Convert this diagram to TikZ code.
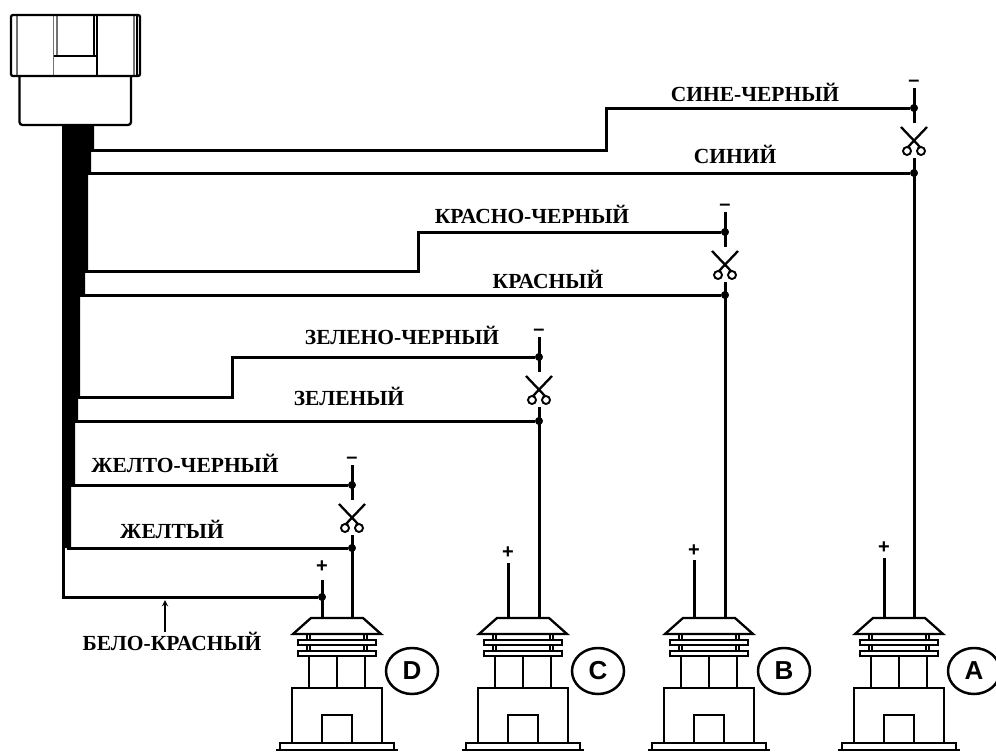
\documentclass[tikz,border=0pt]{standalone}
\usepackage{fontspec}
\setmainfont{Liberation Serif}
\setsansfont{Liberation Sans}
\usetikzlibrary{shapes.geometric}

\begin{document}
\begin{tikzpicture}[x=1pt, y=-1pt]
\tikzset{tipoint/.style={draw, circle, fill, inner sep=0pt, minimum size=7.5pt}}
\tikzset{fil/.style={line width=3pt, line join=miter}}
\tikzset{trait/.style={line width=2.3pt, line join=miter}}
\tikzset{fin/.style={line width=1.6pt, black!55}}
\tikzset{etiq/.style={font=\bfseries\fontsize{21.5}{22}\selectfont, inner sep=0pt}}
\tikzset{signe/.style={font=\sffamily\bfseries\fontsize{20}{20}\selectfont, inner sep=0pt}}
\tikzset{lettre/.style={draw, ellipse, line width=2.5pt, inner sep=0pt, minimum width=52pt, minimum height=46pt, font=\sffamily\bfseries\fontsize{26}{26}\selectfont}}
\useasboundingbox (0,0) rectangle (996,752);
% connecteur
\draw[fin] (17,15) -- (17,76);
\draw[fin] (53.5,15) -- (53.5,76);
\draw[fin] (57,15) -- (57,56);
\draw[fin] (134,15) -- (134,76);
\draw[trait] (94,15) -- (94,56);
\draw[trait] (97,15) -- (97,76);
\draw[trait] (137,15) -- (137,76);
\draw[trait] (54,56) -- (96,56);
\draw[trait, rounded corners=2pt] (11,15) rectangle (140,76);
\draw[trait, rounded corners=3pt] (19.5,76) -- (19.5,125) -- (131,125) -- (131,76);
% faisceau
\fill (62,125) -- (94,125) -- (94,149) -- (91,149) -- (91,172) -- (88,172)
  -- (88,271) -- (85,271) -- (85,295) -- (80,295) -- (80,397) -- (78,397)
  -- (78,421) -- (75,421) -- (75,485) -- (71,485) -- (71,548) -- (62,548) -- cycle;
% points
\node[tipoint] (A1) at (914,108) {};
\node[tipoint] (A2) at (914,173) {};
\node[tipoint] (B1) at (725,232) {};
\node[tipoint] (B2) at (725,295) {};
\node[tipoint] (C1) at (539,357) {};
\node[tipoint] (C2) at (539,421) {};
\node[tipoint] (D1) at (352,485) {};
\node[tipoint] (D2) at (352,548) {};
\node[tipoint] (D3) at (322,597) {};
% departs
\coordinate (SA1) at (90,150);
\coordinate (SA2) at (87,173);
\coordinate (SB1) at (84,271);
\coordinate (SB2) at (79,295);
\coordinate (SC1) at (77,397);
\coordinate (SC2) at (74,421);
\coordinate (SD1) at (70,485);
\coordinate (SD2) at (67,548);
\coordinate (SD3) at (63,546);
\coordinate (KA) at (606,150);
\coordinate (KB) at (418,271);
\coordinate (KC) at (232,397);
\coordinate (KD) at (63,597);
\draw[fil] (SA1) -- (KA) |- (A1);
\draw[fil] (SA2) -- (A2);
\draw[fil] (SB1) -- (KB) |- (B1);
\draw[fil] (SB2) -- (B2);
\draw[fil] (SC1) -- (KC) |- (C1);
\draw[fil] (SC2) -- (C2);
\draw[fil] (SD1) -- (D1);
\draw[fil] (SD2) -- (D2);
\draw[fil] (SD3) -- (KD) -- (D3);
% coupures
\foreach \nom/\xf/\yf in {A/914/108, B/725/232, C/539/357, D/352/485} {
  \coordinate (\nom H) at (\xf,\yf-20);
  \coordinate (\nom M) at (\xf,\yf+15);
  \coordinate (\nom N) at (\xf,\yf+50);
  \coordinate (\nom G) at (\xf-13,\yf+19);
  \coordinate (\nom R) at (\xf+6,\yf+39);
  \coordinate (\nom S) at (\xf+13,\yf+19);
  \coordinate (\nom T) at (\xf-6,\yf+39);
  \node[signe] (\nom moins) at (\xf,\yf-25) {–};
  \draw[fil] (\nom H) -- (\nom M);
  \draw[trait] (\nom G) -- (\nom R);
  \draw[trait] (\nom S) -- (\nom T);
  \node[draw, circle, line width=1.9pt, inner sep=0pt, minimum size=8pt] (\nom c1) at (\xf-7,\yf+43) {};
  \node[draw, circle, line width=1.9pt, inner sep=0pt, minimum size=8pt] (\nom c2) at (\xf+7,\yf+43) {};
}
% injecteurs
\foreach \nom/\xc/\ypl/\yh in {D/337/567/580, C/523/553/563, B/709/551/560, A/899/548/558} {
  \coordinate (\nom P) at (\xc-15,\yh);
  \coordinate (\nom Q) at (\xc-15,618);
  \coordinate (\nom V) at (\nom N |- \nom Q);
  \node[signe] (\nom plus) at (\xc-15,\ypl) {+};
  \draw[fil] (\nom P) -- (\nom Q);
  \draw[fil] (\nom N) -- (\nom V);
  \draw[trait] (\xc-26,618) -- (\xc+26,618) -- (\xc+44,634) -- (\xc-44,634) -- cycle;
  \draw[trait] (\xc-30,634) -- (\xc-30,651);
  \draw[trait] (\xc-27,634) -- (\xc-27,651);
  \draw[trait] (\xc+27,634) -- (\xc+27,651);
  \draw[trait] (\xc+30,634) -- (\xc+30,651);
  \draw[trait, fill=white] (\xc-39,640) rectangle (\xc+39,645);
  \draw[trait, fill=white] (\xc-39,651) rectangle (\xc+39,656);
  \draw[trait] (\xc-28,656) -- (\xc-28,688);
  \draw[trait] (\xc,656) -- (\xc,688);
  \draw[trait] (\xc+28,656) -- (\xc+28,688);
  \draw[trait] (\xc-45,743) -- (\xc-45,688) -- (\xc+45,688) -- (\xc+45,743);
  \draw[trait] (\xc-15,743) -- (\xc-15,715) -- (\xc+15,715) -- (\xc+15,743);
  \draw[trait] (\xc-57,750) -- (\xc-57,743) -- (\xc+57,743) -- (\xc+57,750);
  \draw[trait] (\xc-61,750) -- (\xc+61,750);
  \node[lettre] (\nom let) at (\xc+75,671) {\nom};
}
% etiquettes
\node[etiq] (sinch) at (755,92) {СИНЕ-ЧЕРНЫЙ};
\node[etiq] (sin) at (735,154) {СИНИЙ};
\node[etiq] (krch) at (532,214) {КРАСНО-ЧЕРНЫЙ};
\node[etiq] (kr) at (548,279) {КРАСНЫЙ};
\node[etiq] (zech) at (402,335) {ЗЕЛЕНО-ЧЕРНЫЙ};
\node[etiq] (ze) at (349,396) {ЗЕЛЕНЫЙ};
\node[etiq] (zhch) at (185,463) {ЖЕЛТО-ЧЕРНЫЙ};
\node[etiq] (zh) at (172,529) {ЖЕЛТЫЙ};
\node[etiq] (bel) at (172,641) {БЕЛО-КРАСНЫЙ};
\coordinate (F1) at (165,632);
\coordinate (F2) at (165,600);
\draw[-stealth, line width=1.8pt] (F1) -- (F2);
\end{tikzpicture}
\end{document}
